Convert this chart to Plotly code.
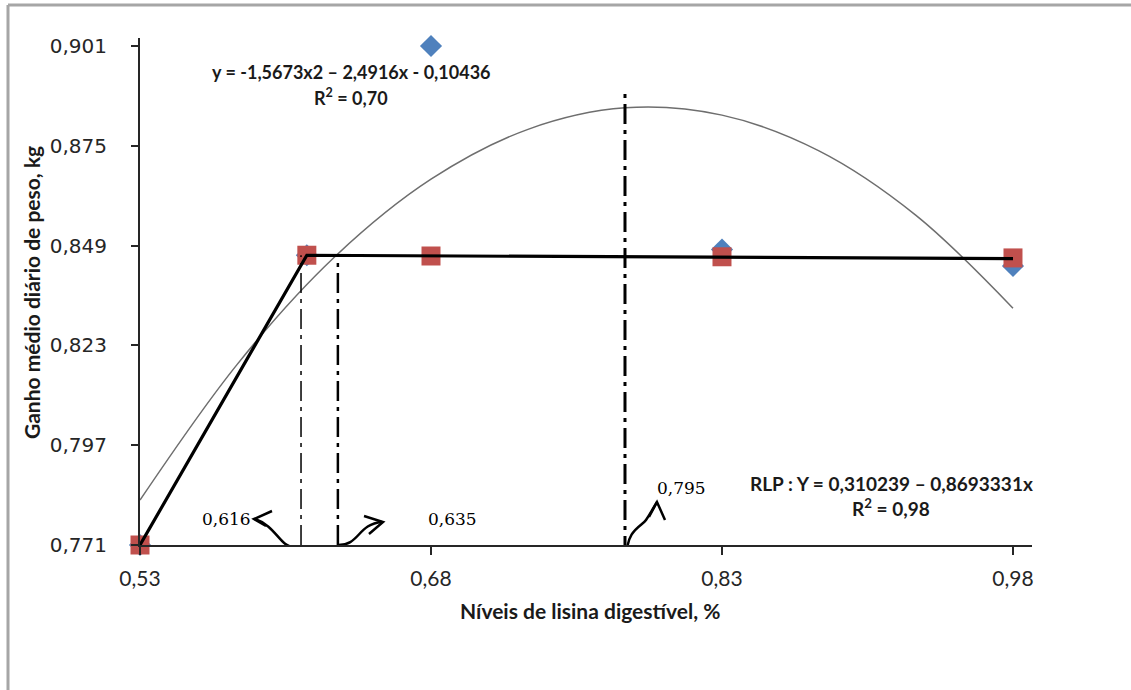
import plotly.graph_objects as go

# observed means (blue) and plateau model points (red)
lys_levels = [0.53, 0.616, 0.68, 0.83, 0.98]
gain_observed = [0.771, 0.8465, 0.901, 0.848, 0.8437]
gain_rlp = [0.771, 0.8465, 0.8463, 0.8461, 0.8458]

# broken-line (plateau) model
rlp_x = [0.53, 0.616, 0.98]
rlp_y = [0.771, 0.8465, 0.8456]

# quadratic trend
quad_x = [0.53, 0.58, 0.63, 0.68, 0.73, 0.78, 0.83, 0.88, 0.93, 0.98]
quad_y = [0.7827, 0.8180, 0.8459, 0.8663, 0.8793, 0.8849, 0.8830, 0.8737, 0.8569, 0.8327]

# vertical requirement markers
req_x = [0.613, 0.632, 0.78]
req_top = [0.8465, 0.8465, 0.8885]
req_labels = ["0,616", "0,635", "0,795"]

x_ticks = [0.53, 0.68, 0.83, 0.98]
x_ticktext = ["0,53", "0,68", "0,83", "0,98"]
y_ticks = [0.771, 0.797, 0.823, 0.849, 0.875, 0.901]
y_ticktext = ["0,771", "0,797", "0,823", "0,849", "0,875", "0,901"]

W, H = 1131, 690
L, R, T, B = 140, 99, 38, 145
X0, X1 = 0.53, 0.9898
Y0, Y1 = 0.771, 0.9031
PW, PH = W - L - R, H - T - B


def dx(px):
    return X0 + (px - L) / PW * (X1 - X0)


def dy(py):
    return Y0 + (H - B - py) / PH * (Y1 - Y0)


def path(points):
    # points: list of (cmd, px, py) in screen pixels
    s = ""
    for cmd, px, py in points:
        s += f"{cmd} {dx(px):.5f},{dy(py):.5f} " if cmd else f"{dx(px):.5f},{dy(py):.5f} "
    return s.strip()


fig = go.Figure()

fig.add_trace(go.Scatter(x=quad_x, y=quad_y, mode='lines', line_shape='spline',
                         line=dict(color='#6e6e6e', width=1.5), showlegend=False))
fig.add_trace(go.Scatter(x=lys_levels, y=gain_observed, mode='markers', cliponaxis=False,
                         marker=dict(symbol='diamond', size=17, color='#4f81bd'), showlegend=False))
fig.add_trace(go.Scatter(x=lys_levels, y=gain_rlp, mode='markers', cliponaxis=False,
                         marker=dict(symbol='square', size=19, color='#c0504d'), showlegend=False))
fig.add_trace(go.Scatter(x=rlp_x, y=rlp_y, mode='lines', cliponaxis=False,
                         line=dict(color='black', width=3.2), showlegend=False))

widths = [1.5, 2.5, 3]
bottoms = [Y0, Y0, dy(556)]
for xv, top, w, bot in zip(req_x, req_top, widths, bottoms):
    fig.add_trace(go.Scatter(x=[xv, xv], y=[bot, top], mode='lines', cliponaxis=False,
                             line=dict(color='black', width=w, dash='20px,6px,4px,6px'),
                             showlegend=False))

arrow_style = dict(type='path', xref='x', yref='y', line=dict(color='black', width=2.5))
shapes = [
    dict(path=path([('M', 294, 547), ('C', 280, 547), ('', 276, 526), ('', 255, 519)]), **arrow_style),
    dict(path=path([('M', 272, 511), ('L', 254, 519), ('L', 266, 526)]), **arrow_style),
    dict(path=path([('M', 337, 545), ('C', 360, 546), ('', 357, 524), ('', 382, 522)]), **arrow_style),
    dict(path=path([('M', 364, 516), ('L', 383, 522), ('L', 369, 534)]), **arrow_style),
    dict(path=path([('M', 627, 556), ('C', 626, 530), ('', 642, 526), ('', 646, 520), ('S', 652, 510), ('', 657, 502)]), **arrow_style),
    dict(path=path([('M', 649, 517), ('L', 657, 502), ('L', 665, 520)]), **arrow_style),
]
# chart frame (top and left edges visible)
shapes.append(dict(type='line', xref='paper', yref='paper',
                   x0=(8 - L) / PW, x1=(W + 5 - L) / PW, y0=(H - B - 5) / PH, y1=(H - B - 5) / PH,
                   line=dict(color='#a6a6a6', width=3)))
shapes.append(dict(type='line', xref='paper', yref='paper',
                   x0=(8 - L) / PW, x1=(8 - L) / PW, y0=(H - B - 5) / PH, y1=(H - B - H - 5) / PH,
                   line=dict(color='#a6a6a6', width=3)))

label_font = dict(family='DejaVu Serif', size=17, color='black')
eq_font = dict(family='Lato', size=18, color='#1a1a1a')
title_font = dict(family='Lato', size=21, color='#1a1a1a')
annotations = [
    dict(x=dx(226), y=dy(519), text=req_labels[0], font=label_font),
    dict(x=dx(452), y=dy(519), text=req_labels[1], font=label_font),
    dict(x=dx(681), y=dy(488), text=req_labels[2], font=label_font),
    dict(x=dx(351), y=dy(72), text='<b>y = -1,5673x2 – 2,4916x - 0,10436</b>', font=eq_font),
    dict(x=dx(351), y=dy(97), text='<b>R<sup>2</sup> = 0,70</b>', font=eq_font),
    dict(x=dx(891), y=dy(483), text='<b>RLP : Y = 0,310239 – 0,8693331x</b>',
         font=dict(family='Lato', size=19, color='#1a1a1a')),
    dict(x=dx(891), y=dy(507), text='<b>R<sup>2</sup> = 0,98</b>',
         font=dict(family='Lato', size=19, color='#1a1a1a')),
    dict(x=(590 - L) / PW, y=(H - B - 610) / PH, xref='paper', yref='paper',
         text='<b>Níveis de lisina digestível, %</b>', font=title_font),
    dict(x=(31 - L) / PW, y=(H - B - 293) / PH, xref='paper', yref='paper',
         text='<b>Ganho médio diário de peso, kg</b>', textangle=-90, font=title_font),
]
for a in annotations:
    a.setdefault('xref', 'x')
    a.setdefault('yref', 'y')
    a['showarrow'] = False
    a['xanchor'] = 'center'
    a['yanchor'] = 'middle'

fig.update_layout(
    width=W, height=H,
    margin=dict(l=L, r=R, t=T, b=B),
    paper_bgcolor='white', plot_bgcolor='white',
    shapes=shapes, annotations=annotations,
    xaxis=dict(range=[X0, X1], tickvals=x_ticks, ticktext=x_ticktext,
               showgrid=False, zeroline=False, showline=True, linecolor='#262626', linewidth=2,
               ticks='outside', ticklen=8, tickwidth=1.5, tickcolor='#262626', ticklabelstandoff=6,
               tickfont=dict(family='Lato', size=21, color='#262626')),
    yaxis=dict(range=[Y0, Y1], tickvals=y_ticks, ticktext=y_ticktext,
               showgrid=False, zeroline=False, showline=True, linecolor='#262626', linewidth=2,
               ticks='outside', ticklen=7, tickwidth=1.5, tickcolor='#262626', ticklabelstandoff=20,
               tickfont=dict(family='DejaVu Sans', size=20, color='#262626')),
)

fig.write_html("out.html", config={'displayModeBar': False},
               post_script="document.body.style.margin='0px';")
